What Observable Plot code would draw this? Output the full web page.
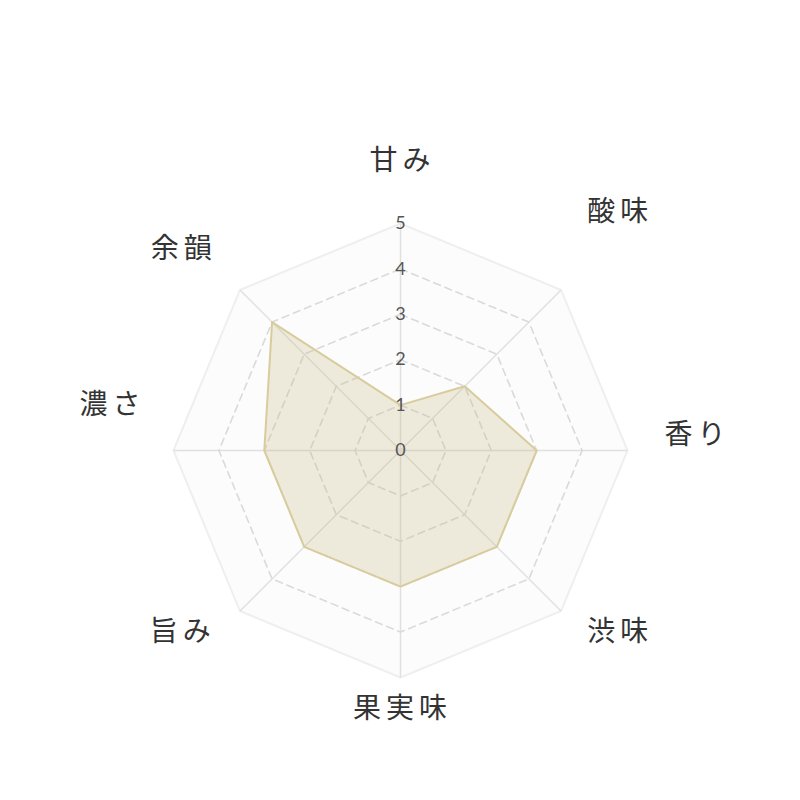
<!DOCTYPE html>
<html>
<head>
<meta charset="utf-8">
<script src="https://cdn.jsdelivr.net/npm/d3@7"></script>
<script src="https://cdn.jsdelivr.net/npm/@observablehq/plot@0.6"></script>
<style>
  html, body { margin: 0; padding: 0; background: #fff; }
  #chart { width: 800px; height: 800px; }
  #chart g[font-size="28"] text { letter-spacing: 5px; }
</style>
</head>
<body>
<div id="chart"></div>
<script>
// ---- data ----
const categories = ["甘み", "酸味", "香り", "渋味", "果実味", "旨み", "濃さ", "余韻"];
const values = [1, 2, 3, 3, 3, 3, 3, 4];
const levels = [1, 2, 3, 4, 5];
const tickLabels = ["0", "1", "2", "3", "4", "5"];
const maxValue = 5;

// ---- layout ----
const U = 45.4;                 // pixels per unit
const labelR = 264 / U;         // label radius in data units
const labelDy = [-25, -52, -15, -5, -5, -5, -45, -15];
const labelDx = [2, 0, 0, 0, 2, 2, 9, 3];

const ang = i => (i * 2 * Math.PI) / categories.length;
const px = (r, i) => r * Math.sin(ang(i));
const py = (r, i) => r * Math.cos(ang(i));

const ringPts = levels.flatMap(l => categories.map((c, i) => ({level: l, x: px(l, i), y: py(l, i)})));
const outerRing = ringPts.filter(d => d.level === maxValue);
const innerRings = ringPts.filter(d => d.level < maxValue);
const spokes = categories.map((c, i) => ({x2: px(maxValue, i), y2: py(maxValue, i)}));
const valuePts = values.map((v, i) => ({x: px(v, i), y: py(v, i)}));
const ticks = tickLabels.map((t, i) => ({label: t, v: i}));

const labelMarks = categories.map((c, i) => {
  const s = Math.sin(ang(i));
  const anchor = s > 0.1 ? "start" : s < -0.1 ? "end" : "middle";
  return Plot.text([c], {
    x: () => px(labelR, i),
    y: () => py(labelR, i),
    text: d => d,
    textAnchor: anchor,
    dx: labelDx[i],
    dy: labelDy[i],
    fontSize: 28,
    fill: "#333",
    fontFamily: "'Noto Sans CJK JP', 'Noto Sans', sans-serif"
  });
});

const chart = Plot.plot({
  width: 800,
  height: 800,
  margin: 0,
  x: {domain: [-400 / U, 400 / U], axis: null},
  y: {domain: [-350 / U, 450 / U], axis: null},
  style: {background: "#fff"},
  marks: [
    Plot.line(outerRing, {x: "x", y: "y", curve: "linear-closed", fill: "#fcfcfc", stroke: "#efefef", strokeWidth: 2}),
    Plot.link(spokes, {x1: () => 0, y1: () => 0, x2: "x2", y2: "y2", stroke: "#e0e0e0", strokeWidth: 1.5}),
    Plot.line(innerRings, {x: "x", y: "y", z: "level", curve: "linear-closed", stroke: "#dadada", strokeWidth: 1.6, strokeDasharray: "7,5"}),
    Plot.line(valuePts, {x: "x", y: "y", curve: "linear-closed", fill: "#c8b981", fillOpacity: 0.27, stroke: "#d8cc9c", strokeWidth: 2}),
    Plot.text(ticks, {x: () => 0, y: "v", text: "label", fontSize: 18, fill: "#555", fontFamily: "Lato, 'Noto Sans', sans-serif"}),
    ...labelMarks
  ]
});
document.getElementById("chart").appendChild(chart);
</script>
</body>
</html>
